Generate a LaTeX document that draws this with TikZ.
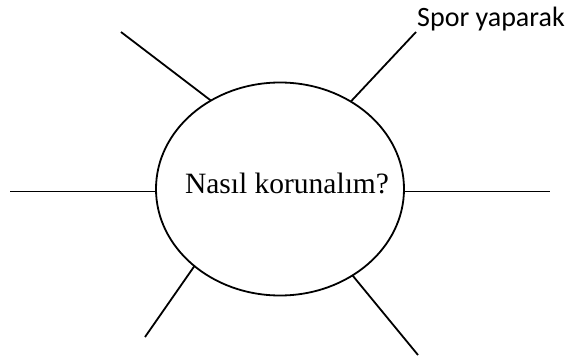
\documentclass[tikz,border=0pt]{standalone}
\usepackage{fontspec}
\setmainfont{Liberation Serif}
\newfontfamily\calib{Carlito}
\usetikzlibrary{shapes.geometric}
\begin{document}
\begin{tikzpicture}[x=1pt,y=-1pt,
  spoke/.style={line width=1.8pt, black},
  bubble/.style={ellipse, draw, line width=1.8pt, minimum width=248pt, minimum height=213pt, inner sep=0pt, outer sep=0pt},
  lbl/.style={inner sep=0pt, font=\fontsize{29.5}{35}\selectfont},
  side/.style={inner sep=0pt, font=\calib\fontsize{28}{34}\selectfont}]
\useasboundingbox (0,0) rectangle (574,356);
\node[bubble] (e) at (280,189) {};
\node[lbl, anchor=base] (t) at (287,193) {Nasıl korunalım?};
\node[side, anchor=base west] (s) at (417,26.7) {Spor yaparak};
\coordinate (l) at (10,191.5);
\coordinate (r) at (550,191.5);
\coordinate (ul) at (121,32);
\coordinate (ur) at (416,32);
\coordinate (ll) at (145,337);
\coordinate (lr) at (418,355);
\draw[spoke] (l) -- (e.west |- l);
\draw[spoke] (e.east |- r) -- (r);
\draw[spoke] (ul) -- (e.128.2);
\draw[spoke] (ur) -- (e.51);
\draw[spoke] (ll) -- (e.222.9);
\draw[spoke] (lr) -- (e.310.7);
\end{tikzpicture}
\end{document}
